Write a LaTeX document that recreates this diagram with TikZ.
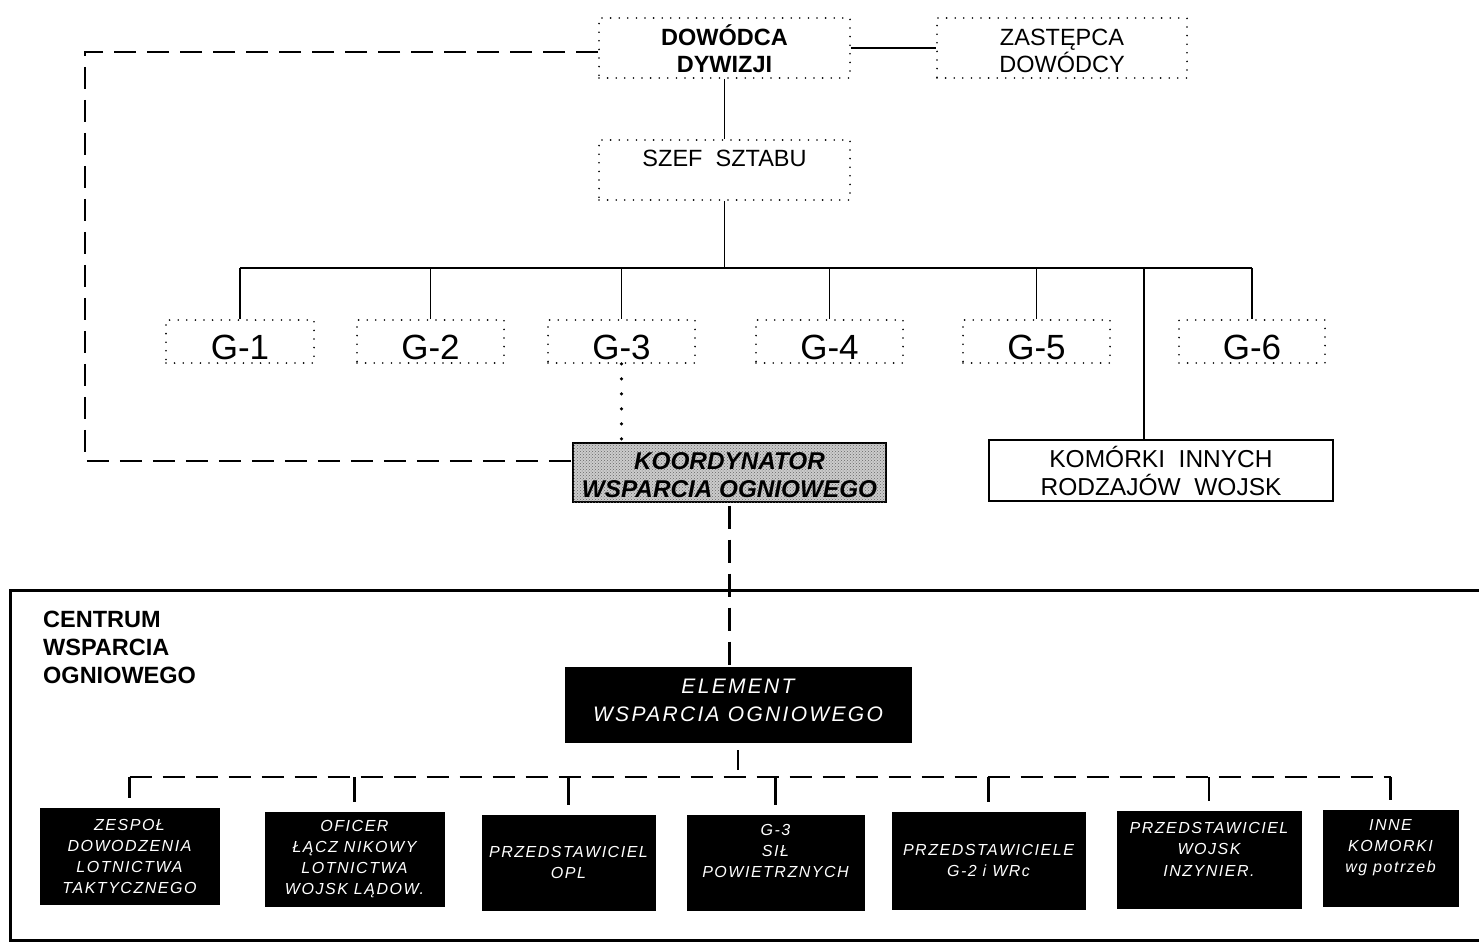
\documentclass[tikz,border=0pt]{standalone}
\usepackage{fontspec}
\setmainfont{Liberation Sans}
\usetikzlibrary{patterns}
\begin{document}
\begin{tikzpicture}[x=1pt,y=-1pt,
  dotbox/.style={draw, line width=1.8pt, dash pattern=on 0pt off 8.6pt, line cap=round, inner sep=0pt, align=center},
  topfont/.style={font=\fontsize{23.5}{27}\selectfont},
  gbox/.style={dotbox, minimum height=43pt, text height=35pt, text depth=0pt, font=\fontsize{35}{35}\selectfont},
  blackbox/.style={fill=black, draw=black, text=white, align=center, inner sep=0pt,
     font=\fontsize{16}{21}\selectfont\itshape\addfontfeature{LetterSpace=9.5}},
  liftup/.style={text depth=#1},
  conn/.style={line width=1.4pt},
  bigdash/.style={line width=2.6pt, dash pattern=on 22pt off 11pt},
  tickline/.style={line width=2.4pt},
  bigdots/.style={line width=3.6pt, dash pattern=on 0pt off 15pt, line cap=round}
]
\useasboundingbox (0,0) rectangle (1479,942);

% top boxes
\node[dotbox, font=\fontsize{23.5}{27}\selectfont\bfseries, minimum width=251pt, minimum height=60pt, text height=50pt] (dow) at (724.5,48) {DOWÓDCA\\DYWIZJI};
\node[dotbox, topfont, minimum width=250pt, minimum height=60pt, text height=50pt] (zas) at (1062,48) {ZASTĘPCA\\DOWÓDCY};
\node[dotbox, topfont, minimum width=251pt, minimum height=60pt, text height=17pt, text depth=24pt] (szef) at (724.5,170) {SZEF~~SZTABU};

% G boxes
\node[gbox, minimum width=148pt] (g1) at (240,341.5) {G-1};
\node[gbox, minimum width=147pt] (g2) at (430.5,341.5) {G-2};
\node[gbox, minimum width=147pt] (g3) at (621.5,341.5) {G-3};
\node[gbox, minimum width=147pt] (g4) at (829.5,341.5) {G-4};
\node[gbox, minimum width=147pt] (g5) at (1036.5,341.5) {G-5};
\node[gbox, minimum width=146pt] (g6) at (1252,341.5) {G-6};

% coordinator and other cells
\node[draw, line width=1.2pt, fill=black!20, postaction={pattern=crosshatch dots, pattern color=black!60},
  minimum width=313pt, minimum height=59pt, inner sep=0pt, align=center, text height=51pt,
  font=\fontsize{24.3}{28}\selectfont\bfseries\itshape] (koord) at (729.5,472.5) {KOORDYNATOR\\WSPARCIA OGNIOWEGO};
\node[draw, line width=1.2pt, minimum width=344pt, minimum height=61pt, inner sep=0pt, align=center,
  font=\fontsize{24.5}{28}\selectfont] (kom) at (1161,470.5) {KOMÓRKI~~INNYCH\\RODZAJÓW~~WOJSK};

% frame
\draw[line width=3pt] (1495,590) -- (10,590) -- (10,940) -- (1495,940);
\node[anchor=west, align=left, inner sep=0pt, font=\fontsize{23.5}{28}\selectfont\bfseries] (cwo) at (43,647) {CENTRUM\\WSPARCIA\\OGNIOWEGO};

\node[fill=black, draw=black, text=white, align=center, inner sep=0pt, minimum width=346pt, minimum height=75pt,
  font=\fontsize{21}{28}\selectfont\itshape\addfontfeature{LetterSpace=11}, liftup=8pt] (elem) at (738,704.5) {ELEMENT\\WSPARCIA OGNIOWEGO};

% bottom boxes
\node[blackbox, minimum width=179pt, minimum height=96pt] (b1) at (129.5,856) {ZESPOŁ\\DOWODZENIA\\LOTNICTWA\\TAKTYCZNEGO};
\node[blackbox, minimum width=179pt, minimum height=94pt] (b2) at (354.5,859) {OFICER\\ŁĄCZ NIKOWY\\LOTNICTWA\\WOJSK LĄDOW.};
\node[blackbox, minimum width=173pt, minimum height=95pt] (b3) at (568.5,862.5) {PRZEDSTAWICIEL\\OPL};
\node[blackbox, minimum width=177pt, minimum height=95pt, liftup=24pt] (b4) at (775.5,862.5) {G-3\\SIŁ\\POWIETRZNYCH};
\node[blackbox, minimum width=193pt, minimum height=97pt] (b5) at (988.5,860.5) {PRZEDSTAWICIELE\\G-2 i WRc};
\node[blackbox, minimum width=184pt, minimum height=97pt, liftup=20pt] (b6) at (1209,859.5) {PRZEDSTAWICIEL\\WOJSK\\[1pt]INZYNIER.};
\node[blackbox, minimum width=135pt, minimum height=96pt, liftup=24pt] (b7) at (1390.5,858) {INNE\\KOMORKI\\wg potrzeb};

% coordinates
\coordinate (topbus) at (0,268);
\coordinate (lowbus) at (0,777);
\coordinate (lc) at (85,52);

% top connectors
\draw[conn] (dow.east) -- (zas.west);
\draw[conn] (dow.south) -- (szef.north);
\draw[conn] (szef.south) -- (szef.south |- topbus);
\draw[conn] (g1.north |- topbus) -- (g6.north |- topbus);
\foreach \g in {g1,g2,g3,g4,g5,g6} \draw[conn] (\g.north |- topbus) -- (\g.north);
\draw[conn] ([xshift=-17pt]kom.north) -- ([xshift=-17pt]kom.north |- topbus);
\draw[bigdots] (g3.south) -- (g3.south |- koord.north);
\draw[bigdash] ([yshift=-4pt]dow.west) -- (lc) |- ([yshift=11.5pt]koord.west);
\draw[bigdash, dash pattern=on 23pt off 11pt, dash phase=-3pt] (koord.south) -- (koord.south |- elem.north);

% lower connectors
\draw[tickline, shorten <=8pt] (elem.south) -- (elem.south |- 0,770);
\draw[bigdash] (b1.north |- lowbus) -- (b7.north |- lowbus);
\foreach \b in {b1,b2,b3,b4,b5,b6,b7} \draw[tickline, shorten >=10pt] (\b.north |- lowbus) -- (\b.north);
\end{tikzpicture}
\end{document}
